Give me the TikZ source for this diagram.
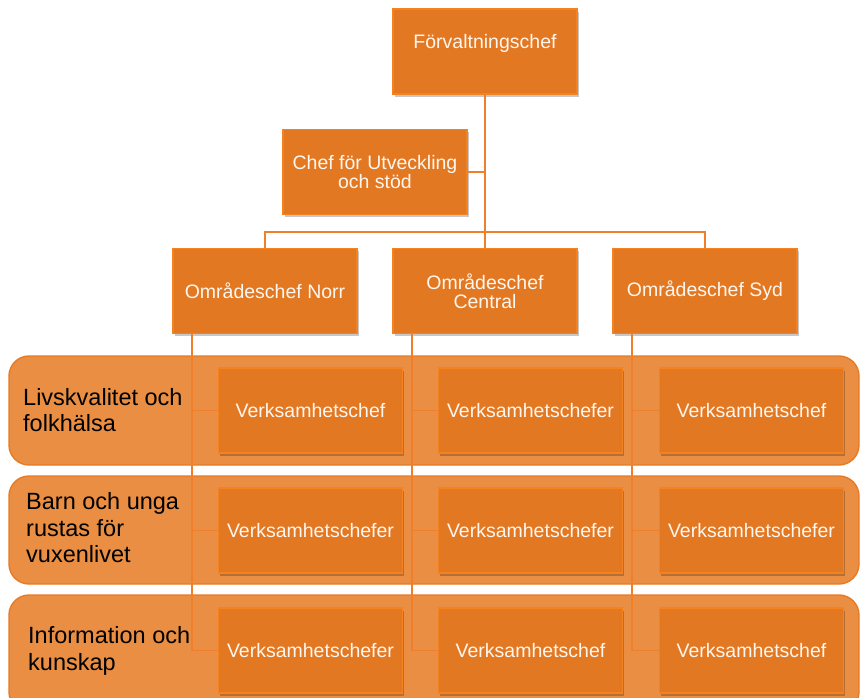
\documentclass[tikz,border=0pt]{standalone}
\usepackage{fontspec}
\setmainfont{Liberation Sans}
\usetikzlibrary{shadows}
\definecolor{boxfill}{HTML}{E37823}
\definecolor{boxdraw}{HTML}{F5821F}
\definecolor{bandfill}{HTML}{E98E43}
\definecolor{banddraw}{HTML}{E87A24}
\definecolor{linecol}{HTML}{EF7F2A}
\definecolor{boxtext}{HTML}{FFF6EE}
\tikzset{
  orgbox/.style={draw=boxdraw, fill=boxfill, line width=1.4pt, minimum width=184pt, minimum height=85pt, inner sep=2pt,
    align=center, text=boxtext, font=\fontsize{19.5}{19}\selectfont,
    drop shadow={shadow xshift=1.5pt, shadow yshift=-2.5pt, opacity=0.22, fill=black}},
  boxlabel/.style={text=boxtext, font=\fontsize{19.5}{19}\selectfont, inner sep=0pt},
  band/.style={draw=banddraw, fill=bandfill, line width=1.4pt, rounded corners=20pt},
  bandlabel/.style={anchor=west, align=left, inner sep=0pt, text=black, font=\fontsize{23.5}{26.5}\selectfont},
  conn/.style={draw=linecol, line width=1.8pt}
}
\begin{document}
\begin{tikzpicture}[x=1pt,y=-1pt]
\useasboundingbox (0,0) rectangle (860,697);
% bands
\begin{scope}
\clip (0,0) rectangle (860,697);
\path[band] (9,356) rectangle (859,465);
\path[band] (9,476) rectangle (859,584);
\path[band] (9,595) rectangle (859,712);
\end{scope}
\node[bandlabel] (l1) at (23,410) {Livskvalitet och\\folkhälsa};
\node[bandlabel] (l2) at (26,528) {Barn och unga\\rustas för\\vuxenlivet};
\node[bandlabel] (l3) at (28,651) {Information och\\kunskap};

% top boxes
\node[orgbox] (fc) at (485,51.5) {};
\node[boxlabel] (fct) at (485,43) {Förvaltningschef};
\node[orgbox] (chef) at (375,172) {Chef för Utveckling\\och stöd};
\node[orgbox] (norr) at (265,291) {Områdeschef Norr};
\node[orgbox] (cen) at (485,291) {Områdeschef\\Central};
\node[orgbox] (syd) at (705,291) {Områdeschef Syd};
\coordinate (j) at (485,232);

% row boxes
\node[orgbox] (a1) at (310.5,410.5) {Verksamhetschef};
\node[orgbox] (b1) at (530.5,410.5) {Verksamhetschefer};
\node[orgbox] (c1) at (751.5,410.5) {Verksamhetschef};
\node[orgbox] (a2) at (310.5,530.5) {Verksamhetschefer};
\node[orgbox] (b2) at (530.5,530.5) {Verksamhetschefer};
\node[orgbox] (c2) at (751.5,530.5) {Verksamhetschefer};
\node[orgbox] (a3) at (310.5,650.5) {Verksamhetschefer};
\node[orgbox] (b3) at (530.5,650.5) {Verksamhetschef};
\node[orgbox] (c3) at (751.5,650.5) {Verksamhetschef};

% connectors
\draw[conn] (fc.south) -- (cen.north);
\draw[conn] (norr.north) |- (j) -| (syd.north);
\draw[conn] (chef.east) -- (chef.east -| fc.south);
\draw[conn] ([xshift=19.5pt]norr.south west) |- (a1.west);
\draw[conn] ([xshift=19.5pt]norr.south west) |- (a2.west);
\draw[conn] ([xshift=19.5pt]norr.south west) |- (a3.west);
\draw[conn] ([xshift=19.5pt]cen.south west) |- (b1.west);
\draw[conn] ([xshift=19.5pt]cen.south west) |- (b2.west);
\draw[conn] ([xshift=19.5pt]cen.south west) |- (b3.west);
\draw[conn] ([xshift=19.5pt]syd.south west) |- (c1.west);
\draw[conn] ([xshift=19.5pt]syd.south west) |- (c2.west);
\draw[conn] ([xshift=19.5pt]syd.south west) |- (c3.west);
\end{tikzpicture}
\end{document}
